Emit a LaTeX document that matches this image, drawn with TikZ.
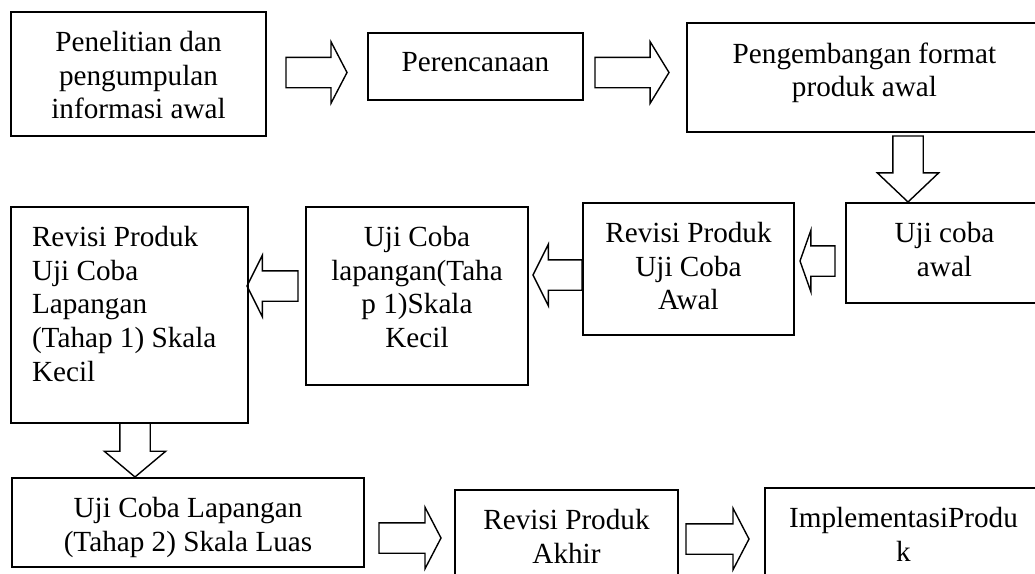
\documentclass[tikz,border=0pt]{standalone}
\usepackage{fontspec}
\setmainfont{Liberation Serif}
\usetikzlibrary{positioning,
                shapes.arrows}
\newcommand{\boxtext}[3]{\parbox[c][#2][t]{#1}{\centering\vspace*{19.5pt}#3}}
\newcommand{\boxtextl}[3]{\parbox[c][#2][t]{#1}{\raggedright\leftskip=21pt\vspace*{19.5pt}#3}}
\tikzset{
    box/.style={draw, line width=1.8pt, inner sep=0pt, outer sep=0pt,
                anchor=north west, font=\fontsize{29.2}{33.6}\selectfont},
    barrow/.style={single arrow, draw, line width=1.4pt, inner xsep=0pt,
                   inner ysep=14.5pt, outer sep=0pt, minimum width=0pt,
                   single arrow head extend=15.5pt, single arrow tip angle=125,
                   anchor=tail},
    rarrow/.style={barrow},
    larrow/.style={barrow, shape border rotate=180, single arrow tip angle=127},
    darrow/.style={barrow, inner sep=14.5pt, shape border rotate=270,
                   single arrow tip angle=93},
}
\begin{document}
\begin{tikzpicture}[x=1pt, y=1pt]
    \useasboundingbox (0,0) rectangle (1035,-573);
    \clip (0,0) rectangle (1035,-573);

    % first row
    \node[box] (b1) at (11,-12) {\boxtext{255pt}{124pt}{Penelitian dan\\ pengumpulan\\ informasi awal}};
    \node[box] (b2) at (368,-33) {\boxtext{215pt}{67pt}{Perencanaan}};
    \node[box] (b3) at (687,-23) {\boxtext{355pt}{109pt}{Pengembangan format\\ produk awal}};

    % second row
    \node[box] (b4) at (846,-203) {\boxtext{197pt}{100pt}{Uji coba\\ awal}};
    \node[box] (b5) at (583,-203) {\boxtext{211pt}{132pt}{Revisi Produk\\ Uji Coba\\ Awal}};
    \node[box] (b6) at (306,-207) {\boxtext{222pt}{178pt}{Uji Coba\\ lapangan(Taha\\ p 1)Skala\\ Kecil}};
    \node[box] (b7) at (11,-207) {\boxtextl{237pt}{216pt}{Revisi Produk\\ Uji Coba\\ Lapangan\\ (Tahap 1) Skala\\ Kecil}};

    % third row
    \node[box] (b8) at (12,-478) {\boxtext{352pt}{89pt}{Uji Coba Lapangan\\ (Tahap 2) Skala Luas}};
    \node[box] (b9) at (455,-490) {\boxtext{223pt}{92pt}{Revisi Produk\\ Akhir}};
    \node[box] (b10) at (765,-488) {\boxtext{277pt}{94pt}{ImplementasiProdu\\ k}};

    % block arrows
    \node[rarrow, minimum height=61pt] (a12) at (286,-72.5) {};
    \node[rarrow, minimum height=74pt, single arrow tip angle=117] (a23) at (595,-72.5) {};
    \node[darrow, minimum height=66pt] (a34) at (908,-136) {};
    \node[larrow, minimum height=35pt, single arrow tip angle=141] (a45) at (835,-261) {};
    \node[larrow, minimum height=49pt] (a56) at (582,-275) {};
    \node[larrow, minimum height=51pt] (a67) at (298,-286) {};
    \node[darrow, minimum height=54pt, single arrow tip angle=100] (a78) at (135,-423) {};
    \node[rarrow, minimum height=62pt] (a89) at (379,-538) {};
    \node[rarrow, minimum height=63pt] (a910) at (686,-539) {};
\end{tikzpicture}
\end{document}
